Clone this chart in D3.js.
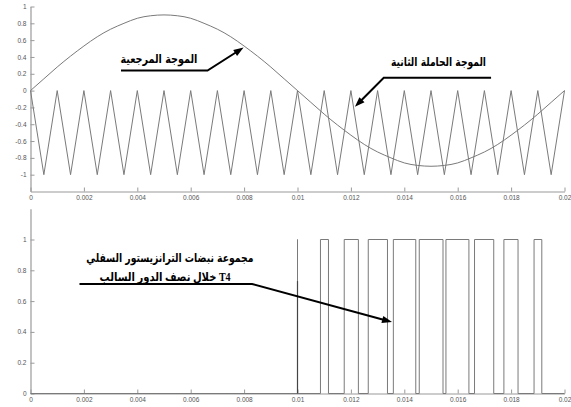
<!DOCTYPE html>
<html>
<head>
<meta charset="utf-8">
<script src="https://cdn.jsdelivr.net/npm/d3@7/dist/d3.min.js"></script>
<style>
  body { margin: 0; background: #fff; }
  svg { display: block; }
</style>
</head>
<body>
<svg id="chart" width="571" height="407"></svg>
<script>
// Time samples (s) for the carrier vertices and the reference sine
const timeGrid = [0, 0.0005, 0.001, 0.0015, 0.002, 0.0025, 0.003, 0.0035, 0.004, 0.0045,
  0.005, 0.0055, 0.006, 0.0065, 0.007, 0.0075, 0.008, 0.0085, 0.009, 0.0095,
  0.01, 0.0105, 0.011, 0.0115, 0.012, 0.0125, 0.013, 0.0135, 0.014, 0.0145,
  0.015, 0.0155, 0.016, 0.0165, 0.017, 0.0175, 0.018, 0.0185, 0.019, 0.0195, 0.02];

// Second (negative) triangular carrier, between 0 and -1
const carrierWave = [0, -1, 0, -1, 0, -1, 0, -1, 0, -1,
  0, -1, 0, -1, 0, -1, 0, -1, 0, -1,
  0, -1, 0, -1, 0, -1, 0, -1, 0, -1,
  0, -1, 0, -1, 0, -1, 0, -1, 0, -1, 0];

// Reference sine wave (amplitude 0.9)
const referenceWave = [0, 0.14, 0.28, 0.41, 0.53, 0.64, 0.73, 0.80, 0.86, 0.89,
  0.90, 0.89, 0.86, 0.80, 0.73, 0.64, 0.53, 0.41, 0.28, 0.14,
  0, -0.14, -0.28, -0.41, -0.53, -0.64, -0.73, -0.80, -0.86, -0.89,
  -0.90, -0.89, -0.86, -0.80, -0.73, -0.64, -0.53, -0.41, -0.28, -0.14, 0];

// Gate pulses of T4: rising and falling edge times (s)
const pulseRise = [0.01, 0.01086, 0.01175, 0.01265, 0.01359, 0.01456, 0.01556, 0.01663, 0.01773, 0.01886];
const pulseFall = [0.01, 0.01116, 0.01228, 0.01337, 0.01443, 0.01545, 0.01642, 0.01735, 0.01826, 0.01915];

// Darker lower part of some pulse edges
const edgeTimes = [0.01];
const edgeHeights = [0.73];

// Axis ticks
const xTicks = [0, 0.002, 0.004, 0.006, 0.008, 0.01, 0.012, 0.014, 0.016, 0.018, 0.02];
const xTickLabels = ["0", "0.002", "0.004", "0.006", "0.008", "0.01", "0.012", "0.014", "0.016", "0.018", "0.02"];
const yTopTicks = [1, 0.8, 0.6, 0.4, 0.2, 0, -0.2, -0.4, -0.6, -0.8, -1];
const yTopLabels = ["1", "0.8", "0.6", "0.4", "0.2", "0", "-0.2", "-0.4", "-0.6", "-0.8", "-1"];
const yBotTicks = [0, 0.2, 0.4, 0.6, 0.8, 1];
const yBotLabels = ["0", "0.2", "0.4", "0.6", "0.8", "1"];

const svg = d3.select("#chart");
svg.append("rect").attr("width", 571).attr("height", 407).attr("fill", "#fff");

const x = d3.scaleLinear().domain([0, 0.02]).range([30.5, 564.5]);
const yTop = d3.scaleLinear().domain([-1.2, 1]).range([191.5, 6.5]);
const yBot = d3.scaleLinear().domain([0, 1.2]).range([393.5, 208.7]);

const AXIS_COLOR = "#9a9a9a";
const LINE_COLOR = "#7a7a7a";

function styleAxis(g) {
  g.select(".domain").attr("stroke", AXIS_COLOR).attr("stroke-width", 1.2);
  g.selectAll(".tick line").attr("stroke", AXIS_COLOR);
  g.selectAll(".tick text")
    .attr("fill", "#555")
    .style("font-family", "'Liberation Sans', Arial, sans-serif")
    .style("font-size", "6.5px");
}

function drawAxes(yScale, yTicks, yLabels) {
  const [y0] = yScale.range();
  svg.append("g")
    .attr("transform", `translate(0,${y0})`)
    .call(d3.axisBottom(x).tickValues(xTicks).tickFormat((d, i) => xTickLabels[i])
      .tickSize(-4).tickSizeOuter(0).tickPadding(4))
    .call(styleAxis);
  svg.append("g")
    .attr("transform", `translate(${x(0)},0)`)
    .call(d3.axisLeft(yScale).tickValues(yTicks).tickFormat((d, i) => yLabels[i])
      .tickSize(-4).tickSizeOuter(0).tickPadding(4))
    .call(styleAxis);
}

// ---------- Top panel: reference and carrier ----------
drawAxes(yTop, yTopTicks, yTopLabels);

const carrierLine = d3.line()
  .x((d, i) => x(timeGrid[i]))
  .y(d => yTop(d));
svg.append("path")
  .datum(carrierWave)
  .attr("d", carrierLine)
  .attr("fill", "none")
  .attr("stroke", LINE_COLOR)
  .attr("stroke-width", 1);

const refLine = d3.line()
  .x((d, i) => x(timeGrid[i]))
  .y(d => yTop(d))
  .curve(d3.curveNatural);
svg.append("path")
  .datum(referenceWave)
  .attr("d", refLine)
  .attr("fill", "none")
  .attr("stroke", LINE_COLOR)
  .attr("stroke-width", 1);

// ---------- Bottom panel: T4 gate pulses ----------
drawAxes(yBot, yBotTicks, yBotLabels);

const pulsePts = [[0, 0]];
pulseRise.forEach((r, i) => {
  pulsePts.push([r, 0], [r, 1], [pulseFall[i], 1], [pulseFall[i], 0]);
});
pulsePts.push([0.02, 0]);
svg.append("path")
  .datum(pulsePts)
  .attr("d", d3.line().x(d => x(d[0])).y(d => yBot(d[1])))
  .attr("fill", "none")
  .attr("stroke", LINE_COLOR)
  .attr("stroke-width", 1);

svg.selectAll(".edge")
  .data(edgeTimes)
  .join("line")
  .attr("class", "edge")
  .attr("x1", d => x(d)).attr("x2", d => x(d))
  .attr("y1", yBot(0)).attr("y2", (d, i) => yBot(edgeHeights[i]))
  .attr("stroke", "#444")
  .attr("stroke-width", 1.2);

// ---------- Annotations ----------
const ARABIC_FONT = "'DejaVu Sans', 'Noto Sans', sans-serif";

function arrow(points, xs, ys) {
  const p = points.map(d => [xs(d[0]), ys(d[1])]);
  svg.append("path")
    .attr("d", d3.line()(p.slice(0, -1).concat([shorten(p[p.length - 2], p[p.length - 1], 6)])))
    .attr("fill", "none")
    .attr("stroke", "#000")
    .attr("stroke-width", 2);
  const a = p[p.length - 2], b = p[p.length - 1];
  const ang = Math.atan2(b[1] - a[1], b[0] - a[0]);
  const len = 10, half = 3.6;
  const base = [b[0] - len * Math.cos(ang), b[1] - len * Math.sin(ang)];
  const left = [base[0] + half * Math.sin(ang), base[1] - half * Math.cos(ang)];
  const right = [base[0] - half * Math.sin(ang), base[1] + half * Math.cos(ang)];
  svg.append("path")
    .attr("d", `M${b}L${left}L${right}Z`)
    .attr("fill", "#000");
}
function shorten(a, b, d) {
  const L = Math.hypot(b[0] - a[0], b[1] - a[1]);
  return [b[0] - (b[0] - a[0]) * d / L, b[1] - (b[1] - a[1]) * d / L];
}
function label(txt, t, v, ys, size, width, rtl) {
  const el = svg.append("text")
    .attr("x", x(t)).attr("y", ys(v))
    .attr("text-anchor", "middle")
    .attr("dominant-baseline", "central")
    .attr("textLength", width)
    .attr("lengthAdjust", "spacingAndGlyphs")
    .style("font-family", rtl ? "'Liberation Serif', " + ARABIC_FONT : ARABIC_FONT)
    .style("font-weight", "bold")
    .style("font-size", size + "px")
    .attr("fill", "#000")
    .text(txt);
  if (rtl) el.attr("direction", "rtl");
}

// Reference wave label
label("الموجة المرجعية", 0.00481, 0.37, yTop, 12, 77);
arrow([[0.00339, 0.238], [0.00663, 0.238], [0.00798, 0.512]], x, yTop);

// Carrier label
label("الموجة الحاملة الثانية", 0.01528, 0.345, yTop, 12, 95);
arrow([[0.01725, 0.152], [0.01323, 0.152], [0.01215, -0.193]], x, yTop);

// Pulse label
label("مجموعة نبضات الترانزيستور السفلي", 0.00522, 0.88, yBot, 12, 167);
label("T4 خلال نصف الدور السالب", 0.00504, 0.756, yBot, 12, 131, true);
arrow([[0.001835, 0.711], [0.0083, 0.711], [0.01354, 0.464]], x, yBot);
</script>
</body>
</html>
